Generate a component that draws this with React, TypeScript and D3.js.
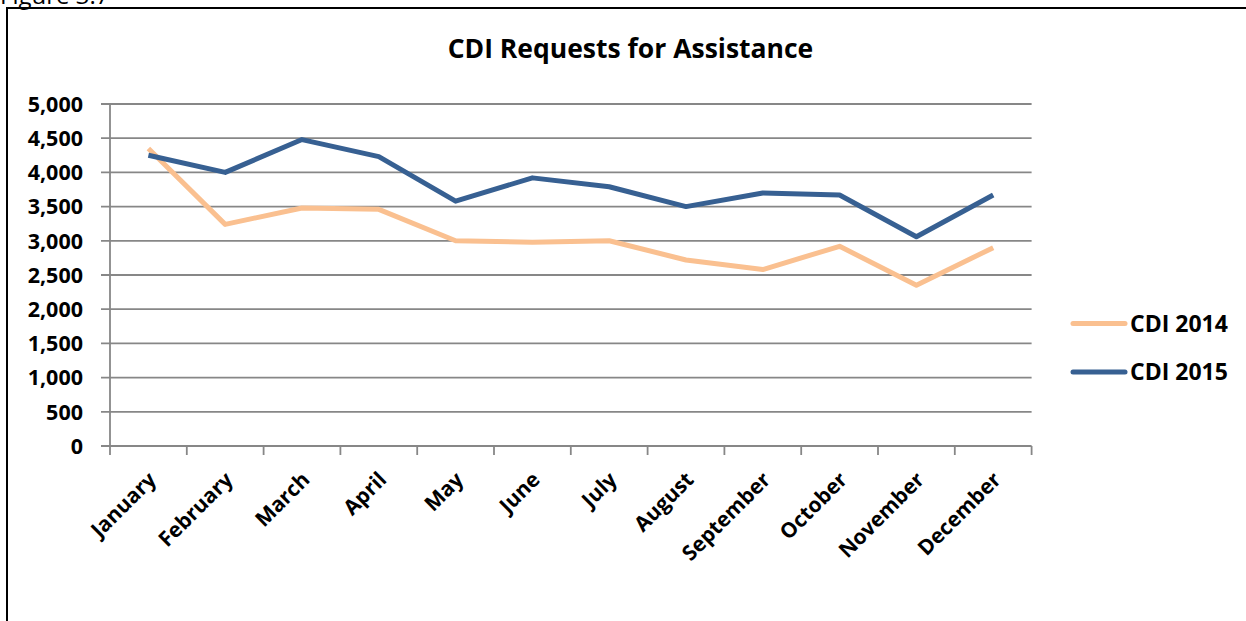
import React from "react";
import * as d3 from "d3";

const months = ["January","February","March","April","May","June","July","August","September","October","November","December"];
const cdi2014 = [4350, 3240, 3480, 3460, 3000, 2980, 3000, 2720, 2580, 2920, 2350, 2900];
const cdi2015 = [4250, 4000, 4480, 4230, 3580, 3920, 3790, 3500, 3700, 3670, 3060, 3670];
const yTicks = [0, 500, 1000, 1500, 2000, 2500, 3000, 3500, 4000, 4500, 5000];
const seriesNames = ["CDI 2014", "CDI 2015"];
const seriesColors = ["#FAC090", "#376092"];

const W = 1246, H = 621;
const FONT = "'Open Sans', 'DejaVu Sans', sans-serif";

export default function App() {
  const x = d3.scaleBand<string>().domain(months).range([110, 1031.6]).paddingInner(0).paddingOuter(0);
  const y = d3.scaleLinear().domain([0, 5000]).range([446, 104]);
  const fmt = d3.format(",");
  const line = d3.line<number>()
    .x((_, i) => (x(months[i]) as number) + x.bandwidth() / 2)
    .y((d) => y(d));
  const boundaries = months.map((m) => x(m) as number).concat([x.range()[1]]);
  const series = [cdi2014, cdi2015];
  const gridColor = "#878787";

  return (
    <svg width={W} height={H} style={{ position: "absolute", left: 0, top: 0, background: "#fff" }} fontFamily={FONT}>
      <rect x={0} y={0} width={W} height={H} fill="#fff" />
      <text x={0} y={4} fontSize={24} fontFamily="'Open Sans', sans-serif" fill="#000">Figure 3.7</text>
      <rect x={7} y={8} width={W + 20} height={H + 20} fill="none" stroke="#000" strokeWidth={2} />
      <text x={630.5} y={57.5} textAnchor="middle" fontSize={26.5} fontWeight="bold" fill="#000">CDI Requests for Assistance</text>

      {/* gridlines and y ticks */}
      {yTicks.map((t) => (
        <g key={t}>
          <line x1={101} x2={1031.6} y1={y(t)} y2={y(t)} stroke={gridColor} strokeWidth={1.8} />
          <text x={83} y={y(t)} dy="0.36em" textAnchor="end" fontSize={21.5} fontWeight="bold" fill="#000">{fmt(t)}</text>
        </g>
      ))}
      {/* y axis */}
      <line x1={110} x2={110} y1={y(5000)} y2={y(0)} stroke={gridColor} strokeWidth={1.8} />
      {/* x ticks */}
      {boundaries.map((b, i) => (
        <line key={i} x1={b} x2={b} y1={y(0)} y2={y(0) + 9} stroke={gridColor} strokeWidth={1.8} />
      ))}
      {/* x labels */}
      {months.map((m) => {
        const cx = (x(m) as number) + x.bandwidth() / 2 + 9;
        const cy = 481;
        return (
          <text key={m} x={cx} y={cy} textAnchor="end" fontSize={21} fontWeight="bold" fill="#000" transform={`rotate(-45 ${cx} ${cy})`}>{m}</text>
        );
      })}

      {/* series */}
      {series.map((s, i) => (
        <path key={i} d={line(s) || ""} fill="none" stroke={seriesColors[i]} strokeWidth={5} strokeLinejoin="round" />
      ))}

      {/* legend */}
      {seriesNames.map((n, i) => {
        const ly = 323.5 + i * 48.5;
        return (
          <g key={n}>
            <line x1={1073} x2={1125} y1={ly} y2={ly} stroke={seriesColors[i]} strokeWidth={5} strokeLinecap="round" />
            <text x={1130} y={ly} dy="0.36em" fontSize={23} fontWeight="bold" fill="#000">{n}</text>
          </g>
        );
      })}
    </svg>
  );
}
